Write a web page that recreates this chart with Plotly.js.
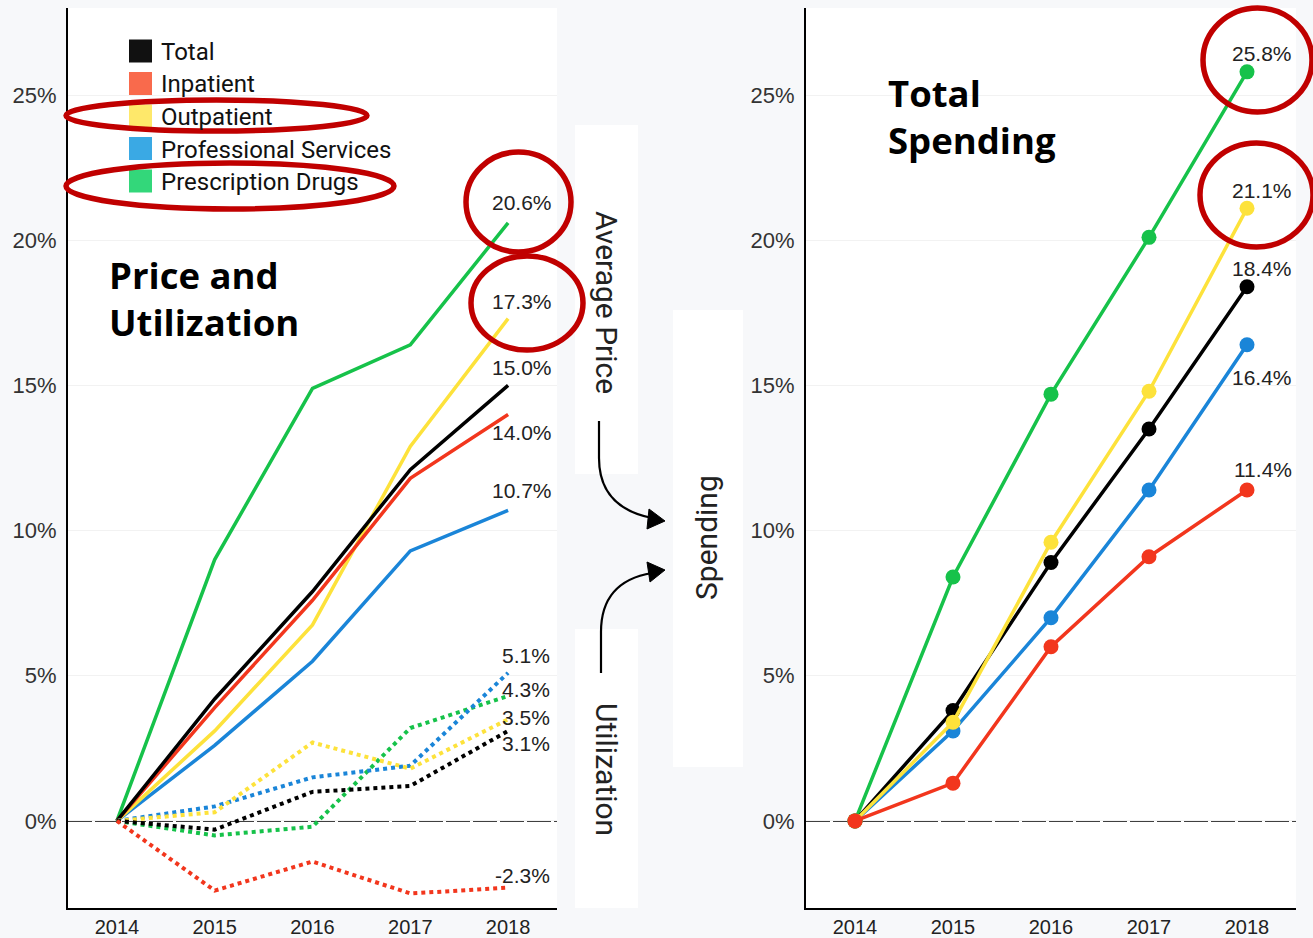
<!DOCTYPE html>
<html><head><meta charset="utf-8">
<script src="https://cdn.plot.ly/plotly-3.0.1.min.js"></script>
<style>html,body{margin:0;padding:0;background:#f7f8fa;} #chart{width:1313px;height:938px;}</style>
</head><body><div id="chart"></div>
<script>
// ---------- DATA ----------
const years = [2014, 2015, 2016, 2017, 2018];
const categories = ['Total', 'Inpatient', 'Outpatient', 'Professional Services', 'Prescription Drugs'];

// Average price growth since 2014 (%)
const priceTotal      = [0, 4.2, 7.9, 12.1, 15.0];
const priceInpatient  = [0, 3.9, 7.6, 11.8, 14.0];
const priceOutpatient = [0, 3.1, 6.75, 12.9, 17.3];
const priceProf       = [0, 2.6, 5.5, 9.3, 10.7];
const priceRx         = [0, 9.0, 14.9, 16.4, 20.6];

// Utilization growth since 2014 (%)
const utilTotal      = [0, -0.3, 1.0, 1.2, 3.1];
const utilInpatient  = [0, -2.4, -1.4, -2.5, -2.3];
const utilOutpatient = [0, 0.3, 2.7, 1.8, 3.5];
const utilProf       = [0, 0.5, 1.5, 1.9, 5.1];
const utilRx         = [0, -0.5, -0.2, 3.2, 4.3];

// Total spending growth since 2014 (%)
const spendTotal      = [0, 3.8, 8.9, 13.5, 18.4];
const spendInpatient  = [0, 1.3, 6.0, 9.1, 11.4];
const spendOutpatient = [0, 3.4, 9.6, 14.8, 21.1];
const spendProf       = [0, 3.1, 7.0, 11.4, 16.4];
const spendRx         = [0, 8.4, 14.7, 20.1, 25.8];

const yTicks = [0, 5, 10, 15, 20, 25];
const yTickText = ['0%', '5%', '10%', '15%', '20%', '25%'];

// ---------- STYLE ----------
const W = 1313, H = 938;
const px = x => x / W;
const py = y => 1 - y / H;

const lineColor = ['#000000', '#F2361D', '#FDE23B', '#1A85D8', '#16C24A'];
const legendColor = ['#111111', '#F96A4C', '#FEE86A', '#3AA9E4', '#33D77A'];

const priceSeries = [priceTotal, priceInpatient, priceOutpatient, priceProf, priceRx];
const utilSeries = [utilTotal, utilInpatient, utilOutpatient, utilProf, utilRx];
const spendSeries = [spendTotal, spendInpatient, spendOutpatient, spendProf, spendRx];

// label vertical shifts (px) per series
const priceShift = [18, -18, 17, 20, 20];
const utilShift = [-13, 12, 2, 17, 7];
const spendShift = [18, 20, 18, -33, 18];

const traces = [];
[4, 3, 2, 1, 0].forEach(i => {
  traces.push({x: years, y: priceSeries[i], xaxis: 'x', yaxis: 'y', mode: 'lines',
    line: {color: lineColor[i], width: 3.5}, hoverinfo: 'skip', showlegend: false});
});
[4, 3, 2, 0, 1].forEach(i => {
  traces.push({x: years, y: utilSeries[i], xaxis: 'x', yaxis: 'y', mode: 'lines',
    line: {color: lineColor[i], width: 4, dash: 'dot'}, hoverinfo: 'skip', showlegend: false});
});
[4, 3, 0, 2, 1].forEach(i => {
  traces.push({x: years, y: spendSeries[i], xaxis: 'x2', yaxis: 'y2', mode: 'lines+markers',
    line: {color: lineColor[i], width: 3.5}, marker: {color: lineColor[i], size: 15},
    hoverinfo: 'skip', showlegend: false});
});

const labelFont = {family: 'Liberation Sans, Arial, sans-serif', size: 21, color: '#222'};
const annotations = [];
const fmt = v => v.toFixed(1) + '%';
priceSeries.forEach((s, i) => {
  annotations.push({x: years[4], y: s[4], xref: 'x', yref: 'y', text: fmt(s[4]), showarrow: false,
    xanchor: 'right', yanchor: 'middle', xshift: 46, yshift: priceShift[i], font: labelFont});
});
utilSeries.forEach((s, i) => {
  annotations.push({x: years[4], y: s[4], xref: 'x', yref: 'y', text: fmt(s[4]), showarrow: false,
    xanchor: 'right', yanchor: 'middle', xshift: 44, yshift: utilShift[i], font: labelFont});
});
spendSeries.forEach((s, i) => {
  annotations.push({x: years[4], y: s[4], xref: 'x2', yref: 'y2', text: fmt(s[4]), showarrow: false,
    xanchor: 'right', yanchor: 'middle', xshift: 47, yshift: spendShift[i], font: labelFont});
});

// titles
const titleFont = {family: 'Open Sans, Noto Sans, sans-serif', size: 36.5, color: '#000'};
annotations.push({x: px(107), y: py(298), xref: 'paper', yref: 'paper', xanchor: 'left', yanchor: 'middle',
  align: 'left', showarrow: false, text: '<b>Price and<br>Utilization</b>', font: titleFont});
annotations.push({x: px(886), y: py(117), xref: 'paper', yref: 'paper', xanchor: 'left', yanchor: 'middle',
  align: 'left', showarrow: false, text: '<b>Total<br>Spending</b>', font: titleFont});

// legend
const shapes = [];
categories.forEach((c, i) => {
  const cy = 51 + i * 32.5;
  shapes.push({type: 'rect', xref: 'paper', yref: 'paper', x0: px(129), x1: px(152), y0: py(cy - 11.5), y1: py(cy + 11.5),
    fillcolor: legendColor[i], line: {width: 0}, layer: 'above'});
  annotations.push({x: px(159), y: py(cy + 1), xref: 'paper', yref: 'paper', xanchor: 'left', yanchor: 'middle',
    showarrow: false, text: c, font: {family: 'Roboto, sans-serif', size: 24, color: '#111'}});
});

// middle boxes and texts
const boxes = [[575, 125, 638, 474], [673, 310, 743, 767], [575, 629, 638, 908]];
boxes.forEach(b => shapes.push({type: 'rect', xref: 'paper', yref: 'paper', x0: px(b[0]), x1: px(b[2]),
  y0: py(b[3]), y1: py(b[1]), fillcolor: '#ffffff', line: {width: 0}, layer: 'below'}));
const midFont = {family: 'Roboto, sans-serif', size: 30, color: '#222'};
const mid = (x, y, t, a) => annotations.push({x: px(x), y: py(y), xref: 'paper', yref: 'paper',
  xanchor: 'center', yanchor: 'middle', showarrow: false, text: t, textangle: a, font: midFont});
mid(607, 302, 'Average Price', 90);
mid(706, 538, 'Spending', -90);
mid(607, 769, 'Utilization', 90);

// arrows
const P = (x, y) => px(x).toFixed(5) + ',' + py(y).toFixed(5);
shapes.push({type: 'path', xref: 'paper', yref: 'paper', line: {color: '#000', width: 2.2},
  path: 'M' + P(599, 421) + ' L' + P(599, 458) + ' C' + P(599, 495) + ' ' + P(622, 512) + ' ' + P(652, 518)});
shapes.push({type: 'path', xref: 'paper', yref: 'paper', fillcolor: '#000', line: {color: '#000', width: 1},
  path: 'M' + P(665, 521) + ' L' + P(649, 509) + ' L' + P(647, 529) + ' Z'});
shapes.push({type: 'path', xref: 'paper', yref: 'paper', line: {color: '#000', width: 2.2},
  path: 'M' + P(601, 673) + ' L' + P(601, 632) + ' C' + P(601, 595) + ' ' + P(622, 578) + ' ' + P(652, 573)});
shapes.push({type: 'path', xref: 'paper', yref: 'paper', fillcolor: '#000', line: {color: '#000', width: 1},
  path: 'M' + P(665, 570) + ' L' + P(647, 562) + ' L' + P(650, 582) + ' Z'});

// zero dashed lines
shapes.push({type: 'line', xref: 'x', yref: 'y', x0: 2013.5, x1: 2018.5, y0: 0, y1: 0,
  line: {color: '#000', width: 1.6, dash: '24px,3px'}, layer: 'below'});
shapes.push({type: 'line', xref: 'x2', yref: 'y2', x0: 2013.5, x1: 2018.5, y0: 0, y1: 0,
  line: {color: '#000', width: 1.6, dash: '24px,3px'}, layer: 'below'});

// red highlight ellipses
const ellipses = [[66, 100, 367, 131], [66, 163, 394, 209], [466, 152, 571, 252], [471, 256, 583, 350],
  [1203, 8, 1312, 112], [1200, 143, 1313, 247]];
ellipses.forEach(e => shapes.push({type: 'circle', xref: 'paper', yref: 'paper', x0: px(e[0]), x1: px(e[2]),
  y0: py(e[3]), y1: py(e[1]), line: {color: '#C00000', width: 5.5}, layer: 'above'}));

const yDomain = [py(908), py(8)];
const xAxisBase = {range: [2013.5, 2018.5], tickmode: 'array', tickvals: years, ticktext: years.map(String),
  ticks: '', showgrid: false, zeroline: false,
  showline: true, linecolor: '#000', linewidth: 2, fixedrange: true, ticklabelstandoff: 0,
  tickfont: {family: 'Liberation Sans, Arial, sans-serif', size: 20, color: '#222'}};
const yAxisBase = {range: [-3, 28], tickmode: 'array', tickvals: yTicks, ticktext: yTickText, ticks: '', showgrid: true,
  gridcolor: '#f2f2f2', gridwidth: 1, zeroline: false, showline: true, linecolor: '#000', linewidth: 2,
  fixedrange: true, ticklabelstandoff: 5,
  tickfont: {family: 'Liberation Sans, Arial, sans-serif', size: 22, color: '#333'}};

const layout = {
  width: W, height: H, margin: {l: 0, r: 0, t: 0, b: 0},
  paper_bgcolor: '#f7f8fa', plot_bgcolor: '#ffffff', showlegend: false, hovermode: false,
  xaxis: Object.assign({}, xAxisBase, {domain: [px(68), px(557)], anchor: 'y'}),
  yaxis: Object.assign({}, yAxisBase, {domain: yDomain, anchor: 'x'}),
  xaxis2: Object.assign({}, xAxisBase, {domain: [px(806), px(1296)], anchor: 'y2'}),
  yaxis2: Object.assign({}, yAxisBase, {domain: yDomain, anchor: 'x2'}),
  shapes: shapes, annotations: annotations
};

Plotly.newPlot('chart', traces, layout, {displayModeBar: false, staticPlot: true});
</script>
</body></html>
